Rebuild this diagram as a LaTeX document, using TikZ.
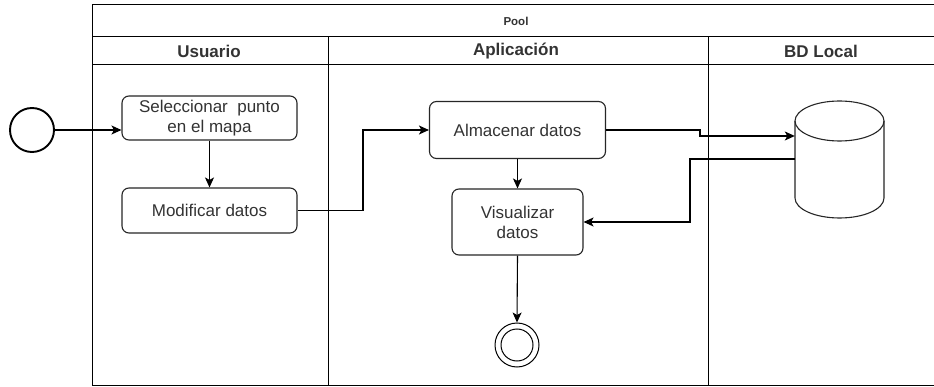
\documentclass[tikz,border=0pt]{standalone}
\usepackage{fontspec}
\setmainfont{Liberation Sans}
\usetikzlibrary{arrows.meta}
\begin{document}
\begin{tikzpicture}[x=1pt,y=-1pt,
  lane/.style={draw=black,line width=1pt},
  task/.style={draw=black!85,line width=1.1pt,rounded corners=7pt,fill=white,
    align=center,font=\fontsize{17}{20}\selectfont,text=black!80,inner sep=0pt},
  flow/.style={draw=black,line width=1.1pt,-{Stealth[length=10pt,width=9pt,inset=2.5pt]}},
  hdr/.style={font=\bfseries\fontsize{17}{20}\selectfont,text=black!80}]
\useasboundingbox (0,0) rectangle (934,387);
% pool and lanes
\draw[lane] (936,5) -- (92,5) -- (92,385) -- (936,385);
\draw[lane] (92,37) -- (936,37);
\draw[lane] (92,65) -- (936,65);
\draw[lane] (328,37) -- (328,385);
\draw[lane] (708,37) -- (708,385);
\node[font=\bfseries\fontsize{11.5}{13}\selectfont,text=black!80] (pool) at (516,21) {Pool};
\node[hdr] (h1) at (209,51) {Usuario};
\node[hdr] (h2) at (516,51) {Aplicación};
\node[hdr] (h3) at (821,51) {BD Local};
% events
\node[circle,draw=black,line width=1.9pt,minimum size=44pt,inner sep=0pt] (start) at (32,130) {};
\node[circle,draw=black,line width=1pt,minimum size=44pt,inner sep=0pt] (end) at (517,345) {};
\node[circle,draw=black,line width=1pt,minimum size=32pt,inner sep=0pt] (endin) at (end.center) {};
% tasks
\node[task,minimum width=175pt,minimum height=44pt] (sel) at (209.5,118) {Seleccionar\ \ punto\\en el mapa};
\node[task,minimum width=175pt,minimum height=45pt] (mod) at (209.5,210.5) {Modificar datos};
\node[task,minimum width=176pt,minimum height=57pt] (alm) at (517.5,130) {Almacenar datos};
\node[task,minimum width=131pt,minimum height=66pt] (vis) at (517.5,222) {Visualizar\\datos};
% database cylinder
\node[minimum width=89pt,minimum height=117pt,inner sep=0pt] (db) at (839.5,159.5) {};
\draw[draw=black!85,line width=1.1pt,fill=white]
  (795,121) -- (795,198) arc[start angle=180,end angle=0,x radius=44.5,y radius=20]
  -- (884,121);
\draw[draw=black!85,line width=1.1pt] (839.5,121) ellipse[x radius=44.5,y radius=20];
% flows
\draw[flow] (start.east) -- (sel.west |- start.east);
\draw[flow] (sel.south) -- (mod.north);
\draw[flow] (mod.east) -- (363,210.5) -- (363,130) -- (alm.west);
\draw[flow] (alm.south) -- (vis.north);
\draw[flow] (vis.south) -- (end.north);
\draw[flow] (alm.east) -- (700,130) -- (700,136) -- (db.west |- 0,136);
\draw[flow] (db.west |- 0,159) -- (690,159) -- (690,222) -- (vis.east);
\end{tikzpicture}
\end{document}
